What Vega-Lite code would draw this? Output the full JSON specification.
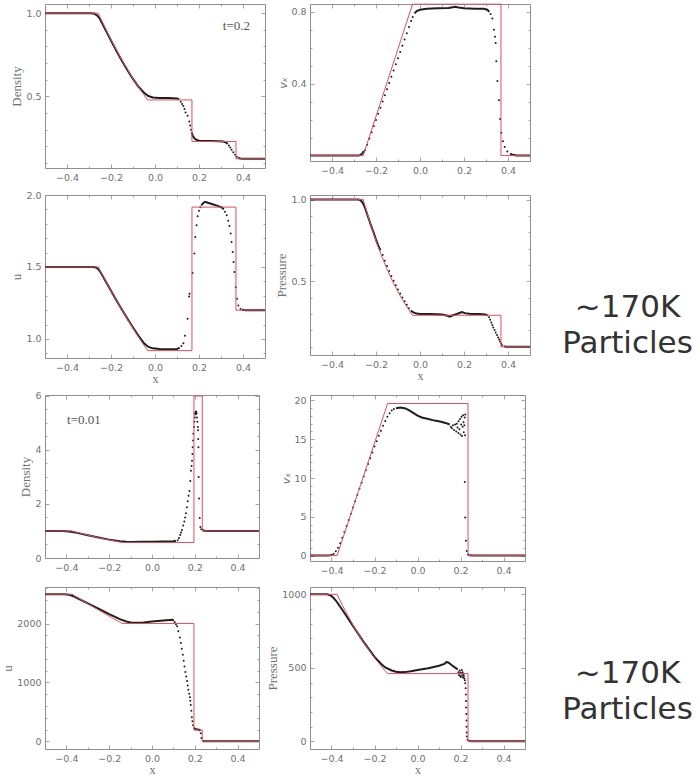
{
"$schema": "https://vega.github.io/schema/vega-lite/v6.json",
"padding": {"left": 1, "top": 1, "right": 0, "bottom": 0},
"columns": 3,
"spacing": {"row": 5, "column": -4},
"config": {
  "view": {"stroke": "#8f8f8f", "strokeWidth": 1},
  "axis": {"domain": false, "grid": false, "labelFont": "DejaVu Sans", "labelFontSize": 9.5, "labelColor": "#707070", "tickColor": "#8f8f8f", "tickWidth": 0.8, "labelPadding": 8, "labelOverlap": false, "labelFlush": false, "labelBound": false, "titleFont": "Liberation Serif", "titleFontSize": 13, "titleFontWeight": "normal", "titleColor": "#707070", "titlePadding": 2},
  "axisX": {"titleFontSize": 12, "titlePadding": 0}
},
"concat": [
{
 "width": 220, "height": 164,
 "data": {"values": [
  {"k":"e","x":-0.5,"y":1},{"k":"e","x":-0.258,"y":1},{"k":"e","x":-0.25,"y":0.9764},{"k":"e","x":-0.225,"y":0.9067},{"k":"e","x":-0.2,"y":0.8403},{"k":"e","x":-0.175,"y":0.7773},{"k":"e","x":-0.15,"y":0.7175},{"k":"e","x":-0.125,"y":0.6608},{"k":"e","x":-0.1,"y":0.6073},{"k":"e","x":-0.075,"y":0.5567},{"k":"e","x":-0.05,"y":0.509},{"k":"e","x":-0.034,"y":0.4788},{"k":"e","x":0.168,"y":0.4788},{"k":"e","x":0.168,"y":0.2294},{"k":"e","x":0.368,"y":0.2294},{"k":"e","x":0.368,"y":0.125},{"k":"e","x":0.5,"y":0.125},
  {"k":"l","s":1,"x":-0.5,"y":1},{"k":"l","s":1,"x":-0.29,"y":1},{"k":"l","s":1,"x":-0.275,"y":0.997},{"k":"l","s":1,"x":-0.262,"y":0.985},{"k":"l","s":1,"x":-0.25,"y":0.965},{"k":"l","s":1,"x":-0.225,"y":0.9},{"k":"l","s":1,"x":-0.2,"y":0.836},{"k":"l","s":1,"x":-0.175,"y":0.773},{"k":"l","s":1,"x":-0.15,"y":0.713},{"k":"l","s":1,"x":-0.125,"y":0.657},{"k":"l","s":1,"x":-0.1,"y":0.605},{"k":"l","s":1,"x":-0.075,"y":0.558},{"k":"l","s":1,"x":-0.05,"y":0.522},{"k":"l","s":1,"x":-0.03,"y":0.502},{"k":"l","s":1,"x":-0.01,"y":0.494},{"k":"l","s":1,"x":0.02,"y":0.491},{"k":"l","s":1,"x":0.06,"y":0.49},{"k":"l","s":1,"x":0.1,"y":0.488},{"k":"l","s":1,"x":0.11,"y":0.482},
  {"k":"d","x":0.117,"y":0.468},{"k":"d","x":0.123,"y":0.455},{"k":"d","x":0.129,"y":0.443},{"k":"d","x":0.134,"y":0.425},{"k":"d","x":0.139,"y":0.404},{"k":"d","x":0.148,"y":0.384},{"k":"d","x":0.156,"y":0.35},{"k":"d","x":0.16,"y":0.325},{"k":"d","x":0.164,"y":0.3},
  {"k":"l","s":2,"x":0.167,"y":0.285},{"k":"l","s":2,"x":0.172,"y":0.262},{"k":"l","s":2,"x":0.18,"y":0.247},{"k":"l","s":2,"x":0.19,"y":0.238},{"k":"l","s":2,"x":0.2,"y":0.234},{"k":"l","s":2,"x":0.25,"y":0.232},{"k":"l","s":2,"x":0.29,"y":0.231},{"k":"l","s":2,"x":0.31,"y":0.229},{"k":"l","s":2,"x":0.322,"y":0.224},{"k":"l","s":2,"x":0.33,"y":0.214},
  {"k":"d","x":0.336,"y":0.205},{"k":"d","x":0.342,"y":0.193},{"k":"d","x":0.348,"y":0.18},{"k":"d","x":0.356,"y":0.165},{"k":"d","x":0.364,"y":0.15},{"k":"d","x":0.372,"y":0.138},
  {"k":"l","s":3,"x":0.378,"y":0.132},{"k":"l","s":3,"x":0.388,"y":0.127},{"k":"l","s":3,"x":0.4,"y":0.125},{"k":"l","s":3,"x":0.5,"y":0.125}
 ]},
 "layer": [
  {"transform": [{"filter": "datum.k=='l'"}], "mark": {"type": "line", "color": "#1e1e1e", "strokeWidth": 2},
   "encoding": {
    "x": {"field": "x", "type": "quantitative", "scale": {"domain": [-0.5, 0.5], "nice": false, "zero": false}, "axis": {"orient": "top", "labels": false, "title": null, "values": [-0.4,-0.3,-0.2,-0.1,0,0.1,0.2,0.3,0.4], "tickSize": {"condition": {"test": "round(datum.value*10)%2==0", "value": -4}, "value": -2}}},
    "y": {"field": "y", "type": "quantitative", "scale": {"domain": [0.07, 1.055], "nice": false, "zero": false}, "axis": {"orient": "right", "labels": false, "title": null, "values": [0.1,0.2,0.3,0.4,0.5,0.6,0.7,0.8,0.9,1.0], "tickSize": {"condition": {"test": "round(datum.value*10)%5==0", "value": -4}, "value": -2}}},
    "detail": {"field": "s"}, "order": {"value": null}}},
  {"transform": [{"filter": "datum.k=='d'"}], "mark": {"type": "circle", "color": "#1e1e1e", "size": 4, "opacity": 1},
   "encoding": {
    "x": {"field": "x", "type": "quantitative", "scale": {"domain": [-0.5, 0.5], "nice": false, "zero": false}, "axis": null},
    "y": {"field": "y", "type": "quantitative", "scale": {"domain": [0.07, 1.055], "nice": false, "zero": false}, "axis": null}}},
  {"transform": [{"filter": "datum.k=='e'"}], "mark": {"type": "line", "color": "#d9505e", "strokeWidth": 1},
   "encoding": {
    "x": {"field": "x", "type": "quantitative", "scale": {"domain": [-0.5, 0.5], "nice": false, "zero": false}, "axis": {"orient": "bottom", "title": null, "values": [-0.4,-0.3,-0.2,-0.1,0,0.1,0.2,0.3,0.4], "labelExpr": "round(datum.value*10)%2==0 ? format(datum.value,'.1f') : ''", "tickSize": {"condition": {"test": "round(datum.value*10)%2==0", "value": -4}, "value": -2}}},
    "y": {"field": "y", "type": "quantitative", "scale": {"domain": [0.07, 1.055], "nice": false, "zero": false}, "axis": {"orient": "left", "title": "Density", "values": [0.1,0.2,0.3,0.4,0.5,0.6,0.7,0.8,0.9,1.0], "labelExpr": "round(datum.value*10)%5==0 ? format(datum.value,'.1f') : ''", "tickSize": {"condition": {"test": "round(datum.value*10)%5==0", "value": -4}, "value": -2}}},
    "order": {"value": null}}},
  {"data": {"values": [{"t": "t=0.2"}]},
   "mark": {"type": "text", "font": "Liberation Serif", "fontSize": 13, "color": "#555555"},
   "encoding": {
    "x": {"datum": 0.37, "type": "quantitative", "scale": {"domain": [-0.5, 0.5], "nice": false, "zero": false}, "axis": null},
    "y": {"datum": 0.925, "type": "quantitative", "scale": {"domain": [0.07, 1.055], "nice": false, "zero": false}, "axis": null},
    "text": {"field": "t"}}}
 ],
 "resolve": {"axis": {"x": "independent", "y": "independent"}}
},
{
 "width": 220, "height": 157,
 "data": {"values": [
  {"k":"e","x":-0.5,"y":0},{"k":"e","x":-0.258,"y":0},{"k":"e","x":-0.034,"y":0.841},{"k":"e","x":0.368,"y":0.841},{"k":"e","x":0.368,"y":0},{"k":"e","x":0.5,"y":0},
  {"k":"l","s":1,"x":-0.5,"y":0},{"k":"l","s":1,"x":-0.28,"y":0},{"k":"l","s":1,"x":-0.27,"y":0.004},{"k":"l","s":1,"x":-0.262,"y":0.012},{"k":"l","s":1,"x":-0.255,"y":0.026},
  {"k":"d","x":-0.25,"y":0.03},{"k":"d","x":-0.24,"y":0.06},{"k":"d","x":-0.23,"y":0.095},{"k":"d","x":-0.22,"y":0.13},{"k":"d","x":-0.21,"y":0.165},{"k":"d","x":-0.2,"y":0.198},{"k":"d","x":-0.19,"y":0.232},{"k":"d","x":-0.18,"y":0.266},{"k":"d","x":-0.17,"y":0.3},{"k":"d","x":-0.16,"y":0.335},{"k":"d","x":-0.15,"y":0.369},{"k":"d","x":-0.14,"y":0.403},{"k":"d","x":-0.13,"y":0.438},{"k":"d","x":-0.12,"y":0.472},{"k":"d","x":-0.11,"y":0.507},{"k":"d","x":-0.1,"y":0.541},{"k":"d","x":-0.09,"y":0.576},{"k":"d","x":-0.08,"y":0.61},{"k":"d","x":-0.07,"y":0.645},{"k":"d","x":-0.06,"y":0.679},{"k":"d","x":-0.05,"y":0.714},{"k":"d","x":-0.04,"y":0.748},{"k":"d","x":-0.033,"y":0.77},
  {"k":"l","s":2,"x":-0.025,"y":0.79},{"k":"l","s":2,"x":-0.015,"y":0.803},{"k":"l","s":2,"x":0,"y":0.81},{"k":"l","s":2,"x":0.03,"y":0.815},{"k":"l","s":2,"x":0.08,"y":0.818},{"k":"l","s":2,"x":0.13,"y":0.82},{"k":"l","s":2,"x":0.16,"y":0.826},{"k":"l","s":2,"x":0.175,"y":0.822},{"k":"l","s":2,"x":0.2,"y":0.818},{"k":"l","s":2,"x":0.25,"y":0.816},{"k":"l","s":2,"x":0.29,"y":0.815},{"k":"l","s":2,"x":0.306,"y":0.81},{"k":"l","s":2,"x":0.315,"y":0.798},
  {"k":"d","x":0.321,"y":0.786},{"k":"d","x":0.329,"y":0.762},{"k":"d","x":0.336,"y":0.699},{"k":"d","x":0.341,"y":0.66},{"k":"d","x":0.344,"y":0.625},{"k":"d","x":0.347,"y":0.524},{"k":"d","x":0.352,"y":0.415},{"k":"d","x":0.359,"y":0.307},{"k":"d","x":0.364,"y":0.203},{"k":"d","x":0.37,"y":0.127},{"k":"d","x":0.377,"y":0.08},{"k":"d","x":0.385,"y":0.048},{"k":"d","x":0.397,"y":0.023},
  {"k":"l","s":3,"x":0.41,"y":0.01},{"k":"l","s":3,"x":0.42,"y":0.005},{"k":"l","s":3,"x":0.44,"y":0},{"k":"l","s":3,"x":0.5,"y":0}
 ]},
 "layer": [
  {"transform": [{"filter": "datum.k=='l'"}], "mark": {"type": "line", "color": "#1e1e1e", "strokeWidth": 2},
   "encoding": {
    "x": {"field": "x", "type": "quantitative", "scale": {"domain": [-0.5, 0.5], "nice": false, "zero": false}, "axis": {"orient": "top", "labels": false, "title": null, "values": [-0.4,-0.3,-0.2,-0.1,0,0.1,0.2,0.3,0.4], "tickSize": {"condition": {"test": "round(datum.value*10)%2==0", "value": -4}, "value": -2}}},
    "y": {"field": "y", "type": "quantitative", "scale": {"domain": [-0.03, 0.842], "nice": false, "zero": false}, "axis": {"orient": "right", "labels": false, "title": null, "values": [0.1,0.2,0.3,0.4,0.5,0.6,0.7,0.8], "tickSize": {"condition": {"test": "round(datum.value*10)%4==0", "value": -4}, "value": -2}}},
    "detail": {"field": "s"}, "order": {"value": null}}},
  {"transform": [{"filter": "datum.k=='d'"}], "mark": {"type": "circle", "color": "#1e1e1e", "size": 4, "opacity": 1},
   "encoding": {
    "x": {"field": "x", "type": "quantitative", "scale": {"domain": [-0.5, 0.5], "nice": false, "zero": false}, "axis": null},
    "y": {"field": "y", "type": "quantitative", "scale": {"domain": [-0.03, 0.842], "nice": false, "zero": false}, "axis": null}}},
  {"transform": [{"filter": "datum.k=='e'"}], "mark": {"type": "line", "color": "#d9505e", "strokeWidth": 1},
   "encoding": {
    "x": {"field": "x", "type": "quantitative", "scale": {"domain": [-0.5, 0.5], "nice": false, "zero": false}, "axis": {"orient": "bottom", "title": null, "values": [-0.4,-0.3,-0.2,-0.1,0,0.1,0.2,0.3,0.4], "labelExpr": "round(datum.value*10)%2==0 ? format(datum.value,'.1f') : ''", "tickSize": {"condition": {"test": "round(datum.value*10)%2==0", "value": -4}, "value": -2}}},
    "y": {"field": "y", "type": "quantitative", "scale": {"domain": [-0.03, 0.842], "nice": false, "zero": false}, "axis": {"orient": "left", "title": "vₓ", "titleFont": "DejaVu Sans", "titleFontStyle": "italic", "titleFontSize": 11, "values": [0.1,0.2,0.3,0.4,0.5,0.6,0.7,0.8], "labelExpr": "round(datum.value*10)%4==0 ? format(datum.value,'.1f') : ''", "tickSize": {"condition": {"test": "round(datum.value*10)%4==0", "value": -4}, "value": -2}}},
    "order": {"value": null}}}
 ],
 "resolve": {"axis": {"x": "independent", "y": "independent"}}
},
{
 "width": 160, "height": 10, "view": {"stroke": null},
 "data": {"values": [{"t": ""}]},
 "mark": {"type": "text"},
 "encoding": {"text": {"field": "t"}}
},
{
 "width": 220, "height": 163,
 "data": {"values": [
  {"k":"e","x":-0.5,"y":1.5},{"k":"e","x":-0.258,"y":1.5},{"k":"e","x":-0.25,"y":1.476},{"k":"e","x":-0.225,"y":1.405},{"k":"e","x":-0.2,"y":1.336},{"k":"e","x":-0.175,"y":1.268},{"k":"e","x":-0.15,"y":1.202},{"k":"e","x":-0.125,"y":1.138},{"k":"e","x":-0.1,"y":1.076},{"k":"e","x":-0.075,"y":1.015},{"k":"e","x":-0.05,"y":0.956},{"k":"e","x":-0.034,"y":0.919},{"k":"e","x":0.168,"y":0.919},{"k":"e","x":0.168,"y":1.916},{"k":"e","x":0.368,"y":1.916},{"k":"e","x":0.368,"y":1.2},{"k":"e","x":0.5,"y":1.2},
  {"k":"l","s":1,"x":-0.5,"y":1.5},{"k":"l","s":1,"x":-0.28,"y":1.5},{"k":"l","s":1,"x":-0.27,"y":1.497},{"k":"l","s":1,"x":-0.26,"y":1.488},{"k":"l","s":1,"x":-0.25,"y":1.47},{"k":"l","s":1,"x":-0.225,"y":1.403},{"k":"l","s":1,"x":-0.2,"y":1.335},{"k":"l","s":1,"x":-0.175,"y":1.268},{"k":"l","s":1,"x":-0.15,"y":1.203},{"k":"l","s":1,"x":-0.125,"y":1.14},{"k":"l","s":1,"x":-0.1,"y":1.08},{"k":"l","s":1,"x":-0.075,"y":1.022},{"k":"l","s":1,"x":-0.05,"y":0.97},{"k":"l","s":1,"x":-0.03,"y":0.945},{"k":"l","s":1,"x":-0.01,"y":0.935},{"k":"l","s":1,"x":0.02,"y":0.93},{"k":"l","s":1,"x":0.06,"y":0.928},{"k":"l","s":1,"x":0.1,"y":0.93},{"k":"l","s":1,"x":0.112,"y":0.94},
  {"k":"d","x":0.12,"y":0.952},{"k":"d","x":0.129,"y":0.97},{"k":"d","x":0.136,"y":1.023},{"k":"d","x":0.148,"y":1.14},{"k":"d","x":0.155,"y":1.295},{"k":"d","x":0.157,"y":1.314},{"k":"d","x":0.171,"y":1.458},{"k":"d","x":0.179,"y":1.593},{"k":"d","x":0.183,"y":1.709},{"k":"d","x":0.189,"y":1.79},{"k":"d","x":0.194,"y":1.853},{"k":"d","x":0.2,"y":1.89},{"k":"d","x":0.206,"y":1.915},
  {"k":"l","s":2,"x":0.21,"y":1.928},{"k":"l","s":2,"x":0.215,"y":1.937},{"k":"l","s":2,"x":0.222,"y":1.948},{"k":"l","s":2,"x":0.228,"y":1.952},{"k":"l","s":2,"x":0.24,"y":1.946},{"k":"l","s":2,"x":0.258,"y":1.937},{"k":"l","s":2,"x":0.288,"y":1.923},{"k":"l","s":2,"x":0.305,"y":1.912},{"k":"l","s":2,"x":0.313,"y":1.9},
  {"k":"d","x":0.318,"y":1.884},{"k":"d","x":0.326,"y":1.86},{"k":"d","x":0.333,"y":1.821},{"k":"d","x":0.338,"y":1.784},{"k":"d","x":0.344,"y":1.733},{"k":"d","x":0.348,"y":1.674},{"k":"d","x":0.353,"y":1.605},{"k":"d","x":0.357,"y":1.535},{"k":"d","x":0.361,"y":1.465},{"k":"d","x":0.367,"y":1.36},{"k":"d","x":0.373,"y":1.279},{"k":"d","x":0.379,"y":1.233},{"k":"d","x":0.389,"y":1.209},
  {"k":"l","s":3,"x":0.395,"y":1.204},{"k":"l","s":3,"x":0.41,"y":1.2},{"k":"l","s":3,"x":0.5,"y":1.2}
 ]},
 "layer": [
  {"transform": [{"filter": "datum.k=='l'"}], "mark": {"type": "line", "color": "#1e1e1e", "strokeWidth": 2},
   "encoding": {
    "x": {"field": "x", "type": "quantitative", "scale": {"domain": [-0.5, 0.5], "nice": false, "zero": false}, "axis": {"orient": "top", "labels": false, "title": null, "values": [-0.4,-0.3,-0.2,-0.1,0,0.1,0.2,0.3,0.4], "tickSize": {"condition": {"test": "round(datum.value*10)%2==0", "value": -4}, "value": -2}}},
    "y": {"field": "y", "type": "quantitative", "scale": {"domain": [0.868, 2.0], "nice": false, "zero": false}, "axis": {"orient": "right", "labels": false, "title": null, "values": [0.9,1.0,1.1,1.2,1.3,1.4,1.5,1.6,1.7,1.8,1.9,2.0], "tickSize": {"condition": {"test": "round(datum.value*10)%5==0", "value": -4}, "value": -2}}},
    "detail": {"field": "s"}, "order": {"value": null}}},
  {"transform": [{"filter": "datum.k=='d'"}], "mark": {"type": "circle", "color": "#1e1e1e", "size": 4, "opacity": 1},
   "encoding": {
    "x": {"field": "x", "type": "quantitative", "scale": {"domain": [-0.5, 0.5], "nice": false, "zero": false}, "axis": null},
    "y": {"field": "y", "type": "quantitative", "scale": {"domain": [0.868, 2.0], "nice": false, "zero": false}, "axis": null}}},
  {"transform": [{"filter": "datum.k=='e'"}], "mark": {"type": "line", "color": "#d9505e", "strokeWidth": 1},
   "encoding": {
    "x": {"field": "x", "type": "quantitative", "scale": {"domain": [-0.5, 0.5], "nice": false, "zero": false}, "axis": {"orient": "bottom", "title": "x", "values": [-0.4,-0.3,-0.2,-0.1,0,0.1,0.2,0.3,0.4], "labelExpr": "round(datum.value*10)%2==0 ? format(datum.value,'.1f') : ''", "tickSize": {"condition": {"test": "round(datum.value*10)%2==0", "value": -4}, "value": -2}}},
    "y": {"field": "y", "type": "quantitative", "scale": {"domain": [0.868, 2.0], "nice": false, "zero": false}, "axis": {"orient": "left", "title": "u", "values": [0.9,1.0,1.1,1.2,1.3,1.4,1.5,1.6,1.7,1.8,1.9,2.0], "labelExpr": "round(datum.value*10)%5==0 ? format(datum.value,'.1f') : ''", "tickSize": {"condition": {"test": "round(datum.value*10)%5==0", "value": -4}, "value": -2}}},
    "order": {"value": null}}}
 ],
 "resolve": {"axis": {"x": "independent", "y": "independent"}}
},
{
 "width": 220, "height": 160,
 "data": {"values": [
  {"k":"e","x":-0.5,"y":1},{"k":"e","x":-0.258,"y":1},{"k":"e","x":-0.25,"y":0.9609},{"k":"e","x":-0.225,"y":0.849},{"k":"e","x":-0.2,"y":0.748},{"k":"e","x":-0.175,"y":0.657},{"k":"e","x":-0.15,"y":0.575},{"k":"e","x":-0.125,"y":0.5014},{"k":"e","x":-0.1,"y":0.4355},{"k":"e","x":-0.075,"y":0.3767},{"k":"e","x":-0.05,"y":0.3244},{"k":"e","x":-0.034,"y":0.293},{"k":"e","x":0.368,"y":0.293},{"k":"e","x":0.368,"y":0.1},{"k":"e","x":0.5,"y":0.1},
  {"k":"l","s":1,"x":-0.5,"y":1},{"k":"l","s":1,"x":-0.28,"y":1},{"k":"l","s":1,"x":-0.27,"y":0.996},{"k":"l","s":1,"x":-0.26,"y":0.98},{"k":"l","s":1,"x":-0.25,"y":0.95},{"k":"l","s":1,"x":-0.24,"y":0.91},{"k":"l","s":1,"x":-0.225,"y":0.85},{"k":"l","s":1,"x":-0.21,"y":0.795},{"k":"l","s":1,"x":-0.2,"y":0.755},{"k":"l","s":1,"x":-0.19,"y":0.72},{"k":"l","s":1,"x":-0.18,"y":0.69},
  {"k":"d","x":-0.17,"y":0.6606},{"k":"d","x":-0.16,"y":0.6266},{"k":"d","x":-0.15,"y":0.594},{"k":"d","x":-0.14,"y":0.5627},{"k":"d","x":-0.13,"y":0.5327},{"k":"d","x":-0.12,"y":0.5042},{"k":"d","x":-0.11,"y":0.4769},{"k":"d","x":-0.1,"y":0.4506},{"k":"d","x":-0.09,"y":0.4256},{"k":"d","x":-0.08,"y":0.4017},{"k":"d","x":-0.07,"y":0.379},{"k":"d","x":-0.06,"y":0.3573},{"k":"d","x":-0.05,"y":0.3363},
  {"k":"l","s":2,"x":-0.042,"y":0.322},{"k":"l","s":2,"x":-0.03,"y":0.31},{"k":"l","s":2,"x":-0.015,"y":0.303},{"k":"l","s":2,"x":0,"y":0.301},{"k":"l","s":2,"x":0.05,"y":0.3},{"k":"l","s":2,"x":0.1,"y":0.297},{"k":"l","s":2,"x":0.125,"y":0.29},{"k":"l","s":2,"x":0.135,"y":0.285},{"k":"l","s":2,"x":0.15,"y":0.293},{"k":"l","s":2,"x":0.17,"y":0.302},{"k":"l","s":2,"x":0.19,"y":0.313},{"k":"l","s":2,"x":0.205,"y":0.306},{"k":"l","s":2,"x":0.23,"y":0.3},{"k":"l","s":2,"x":0.27,"y":0.3},{"k":"l","s":2,"x":0.298,"y":0.298},{"k":"l","s":2,"x":0.308,"y":0.29},
  {"k":"d","x":0.314,"y":0.28},{"k":"d","x":0.319,"y":0.265},{"k":"d","x":0.324,"y":0.249},{"k":"d","x":0.329,"y":0.234},{"k":"d","x":0.333,"y":0.218},{"k":"d","x":0.339,"y":0.203},{"k":"d","x":0.344,"y":0.188},{"k":"d","x":0.35,"y":0.172},{"k":"d","x":0.355,"y":0.157},{"k":"d","x":0.36,"y":0.145},{"k":"d","x":0.364,"y":0.133},{"k":"d","x":0.369,"y":0.121},{"k":"d","x":0.374,"y":0.11},
  {"k":"l","s":3,"x":0.382,"y":0.104},{"k":"l","s":3,"x":0.39,"y":0.101},{"k":"l","s":3,"x":0.4,"y":0.1},{"k":"l","s":3,"x":0.5,"y":0.1}
 ]},
 "layer": [
  {"transform": [{"filter": "datum.k=='l'"}], "mark": {"type": "line", "color": "#1e1e1e", "strokeWidth": 2},
   "encoding": {
    "x": {"field": "x", "type": "quantitative", "scale": {"domain": [-0.5, 0.5], "nice": false, "zero": false}, "axis": {"orient": "top", "labels": false, "title": null, "values": [-0.4,-0.3,-0.2,-0.1,0,0.1,0.2,0.3,0.4], "tickSize": {"condition": {"test": "round(datum.value*10)%2==0", "value": -4}, "value": -2}}},
    "y": {"field": "y", "type": "quantitative", "scale": {"domain": [0.05, 1.028], "nice": false, "zero": false}, "axis": {"orient": "right", "labels": false, "title": null, "values": [0.1,0.2,0.3,0.4,0.5,0.6,0.7,0.8,0.9,1.0], "tickSize": {"condition": {"test": "round(datum.value*10)%5==0", "value": -4}, "value": -2}}},
    "detail": {"field": "s"}, "order": {"value": null}}},
  {"transform": [{"filter": "datum.k=='d'"}], "mark": {"type": "circle", "color": "#1e1e1e", "size": 4, "opacity": 1},
   "encoding": {
    "x": {"field": "x", "type": "quantitative", "scale": {"domain": [-0.5, 0.5], "nice": false, "zero": false}, "axis": null},
    "y": {"field": "y", "type": "quantitative", "scale": {"domain": [0.05, 1.028], "nice": false, "zero": false}, "axis": null}}},
  {"transform": [{"filter": "datum.k=='e'"}], "mark": {"type": "line", "color": "#d9505e", "strokeWidth": 1},
   "encoding": {
    "x": {"field": "x", "type": "quantitative", "scale": {"domain": [-0.5, 0.5], "nice": false, "zero": false}, "axis": {"orient": "bottom", "title": "x", "values": [-0.4,-0.3,-0.2,-0.1,0,0.1,0.2,0.3,0.4], "labelExpr": "round(datum.value*10)%2==0 ? format(datum.value,'.1f') : ''", "tickSize": {"condition": {"test": "round(datum.value*10)%2==0", "value": -4}, "value": -2}}},
    "y": {"field": "y", "type": "quantitative", "scale": {"domain": [0.05, 1.028], "nice": false, "zero": false}, "axis": {"orient": "left", "title": "Pressure", "values": [0.1,0.2,0.3,0.4,0.5,0.6,0.7,0.8,0.9,1.0], "labelExpr": "round(datum.value*10)%5==0 ? format(datum.value,'.1f') : ''", "tickSize": {"condition": {"test": "round(datum.value*10)%5==0", "value": -4}, "value": -2}}},
    "order": {"value": null}}}
 ],
 "resolve": {"axis": {"x": "independent", "y": "independent"}}
},
{
 "width": 160, "height": 150, "view": {"stroke": null},
 "data": {"values": [{"t": "~170K\nParticles"}]},
 "mark": {"type": "text", "font": "DejaVu Sans", "fontSize": 31, "lineHeight": 36, "lineBreak": "\n", "color": "#333333", "align": "center", "baseline": "middle"},
 "encoding": {
  "text": {"field": "t"},
  "x": {"datum": 0.578, "type": "quantitative", "scale": {"domain": [0, 1]}, "axis": null},
  "y": {"datum": 0.25, "type": "quantitative", "scale": {"domain": [0, 1]}, "axis": null}}
},
{
 "width": 214, "height": 163,
 "data": {"values": [
  {"k":"e","x":-0.5,"y":1},{"k":"e","x":-0.374,"y":1},{"k":"e","x":-0.35,"y":0.9472},{"k":"e","x":-0.3,"y":0.8457},{"k":"e","x":-0.25,"y":0.7525},{"k":"e","x":-0.2,"y":0.6678},{"k":"e","x":-0.15,"y":0.5911},{"k":"e","x":-0.139,"y":0.5751},{"k":"e","x":0.196,"y":0.5751},{"k":"e","x":0.196,"y":5.992},{"k":"e","x":0.235,"y":5.992},{"k":"e","x":0.235,"y":1},{"k":"e","x":0.5,"y":1},
  {"k":"l","s":1,"x":-0.5,"y":1},{"k":"l","s":1,"x":-0.42,"y":1},{"k":"l","s":1,"x":-0.4,"y":0.99},{"k":"l","s":1,"x":-0.38,"y":0.97},{"k":"l","s":1,"x":-0.35,"y":0.93},{"k":"l","s":1,"x":-0.3,"y":0.845},{"k":"l","s":1,"x":-0.25,"y":0.76},{"k":"l","s":1,"x":-0.2,"y":0.68},{"k":"l","s":1,"x":-0.15,"y":0.62},{"k":"l","s":1,"x":-0.12,"y":0.6},{"k":"l","s":1,"x":-0.1,"y":0.595},{"k":"l","s":1,"x":-0.05,"y":0.598},{"k":"l","s":1,"x":0,"y":0.602},{"k":"l","s":1,"x":0.05,"y":0.61},{"k":"l","s":1,"x":0.1,"y":0.62},{"k":"l","s":1,"x":0.112,"y":0.64},
  {"k":"d","x":0.12,"y":0.66},{"k":"d","x":0.126,"y":0.74},{"k":"d","x":0.132,"y":0.85},{"k":"d","x":0.136,"y":0.94},{"k":"d","x":0.14,"y":1.04},{"k":"d","x":0.146,"y":1.2},{"k":"d","x":0.151,"y":1.35},{"k":"d","x":0.155,"y":1.5},{"k":"d","x":0.159,"y":1.66},{"k":"d","x":0.163,"y":1.88},{"k":"d","x":0.167,"y":2.1},{"k":"d","x":0.171,"y":2.3},{"k":"d","x":0.175,"y":2.48},{"k":"d","x":0.179,"y":2.85},{"k":"d","x":0.182,"y":3.23},{"k":"d","x":0.185,"y":3.4},{"k":"d","x":0.187,"y":3.6},{"k":"d","x":0.189,"y":3.85},{"k":"d","x":0.19,"y":4.1},{"k":"d","x":0.192,"y":4.35},{"k":"d","x":0.193,"y":4.6},{"k":"d","x":0.196,"y":4.85},{"k":"d","x":0.198,"y":5.04},{"k":"d","x":0.2,"y":5.2},{"k":"d","x":0.201,"y":5.35},{"k":"d","x":0.203,"y":5.32},{"k":"d","x":0.204,"y":5.4},{"k":"d","x":0.205,"y":5.38},{"k":"d","x":0.206,"y":5.42},{"k":"d","x":0.207,"y":5.36},{"k":"d","x":0.208,"y":5.35},{"k":"d","x":0.21,"y":5.2},{"k":"d","x":0.212,"y":5.04},{"k":"d","x":0.214,"y":4.85},{"k":"d","x":0.215,"y":4.73},{"k":"d","x":0.216,"y":4.4},{"k":"d","x":0.217,"y":4.1},{"k":"d","x":0.218,"y":3.0},{"k":"d","x":0.22,"y":2.2},{"k":"d","x":0.223,"y":1.48},{"k":"d","x":0.226,"y":1.15},{"k":"d","x":0.23,"y":1.06},
  {"k":"l","s":2,"x":0.235,"y":1.04},{"k":"l","s":2,"x":0.245,"y":1.01},{"k":"l","s":2,"x":0.26,"y":1},{"k":"l","s":2,"x":0.5,"y":1}
 ]},
 "layer": [
  {"transform": [{"filter": "datum.k=='l'"}], "mark": {"type": "line", "color": "#1e1e1e", "strokeWidth": 2},
   "encoding": {
    "x": {"field": "x", "type": "quantitative", "scale": {"domain": [-0.5, 0.5], "nice": false, "zero": false}, "axis": {"orient": "top", "labels": false, "title": null, "values": [-0.4,-0.3,-0.2,-0.1,0,0.1,0.2,0.3,0.4], "tickSize": {"condition": {"test": "round(datum.value*10)%2==0", "value": -4}, "value": -2}}},
    "y": {"field": "y", "type": "quantitative", "scale": {"domain": [0, 6.03], "nice": false, "zero": false}, "axis": {"orient": "right", "labels": false, "title": null, "values": [0.5,1,1.5,2,2.5,3,3.5,4,4.5,5,5.5,6], "tickSize": {"condition": {"test": "datum.value%2==0", "value": -4}, "value": -2}}},
    "detail": {"field": "s"}, "order": {"value": null}}},
  {"transform": [{"filter": "datum.k=='d'"}], "mark": {"type": "circle", "color": "#1e1e1e", "size": 4, "opacity": 1},
   "encoding": {
    "x": {"field": "x", "type": "quantitative", "scale": {"domain": [-0.5, 0.5], "nice": false, "zero": false}, "axis": null},
    "y": {"field": "y", "type": "quantitative", "scale": {"domain": [0, 6.03], "nice": false, "zero": false}, "axis": null}}},
  {"transform": [{"filter": "datum.k=='e'"}], "mark": {"type": "line", "color": "#d9505e", "strokeWidth": 1},
   "encoding": {
    "x": {"field": "x", "type": "quantitative", "scale": {"domain": [-0.5, 0.5], "nice": false, "zero": false}, "axis": {"orient": "bottom", "title": null, "values": [-0.4,-0.3,-0.2,-0.1,0,0.1,0.2,0.3,0.4], "labelExpr": "round(datum.value*10)%2==0 ? format(datum.value,'.1f') : ''", "tickSize": {"condition": {"test": "round(datum.value*10)%2==0", "value": -4}, "value": -2}}},
    "y": {"field": "y", "type": "quantitative", "scale": {"domain": [0, 6.03], "nice": false, "zero": false}, "axis": {"orient": "left", "title": "Density", "values": [0,0.5,1,1.5,2,2.5,3,3.5,4,4.5,5,5.5,6], "labelExpr": "datum.value%2==0 ? format(datum.value,'d') : ''", "tickSize": {"condition": {"test": "datum.value%2==0", "value": -4}, "value": -2}}},
    "order": {"value": null}}},
  {"data": {"values": [{"t": "t=0.01"}]},
   "mark": {"type": "text", "font": "Liberation Serif", "fontSize": 13, "color": "#555555"},
   "encoding": {
    "x": {"datum": -0.318, "type": "quantitative", "scale": {"domain": [-0.5, 0.5], "nice": false, "zero": false}, "axis": null},
    "y": {"datum": 5.1, "type": "quantitative", "scale": {"domain": [0, 6.03], "nice": false, "zero": false}, "axis": null},
    "text": {"field": "t"}}}
 ],
 "resolve": {"axis": {"x": "independent", "y": "independent"}}
},
{
 "width": 215, "height": 166,
 "data": {"values": [
  {"k":"e","x":-0.5,"y":0},{"k":"e","x":-0.374,"y":0},{"k":"e","x":-0.139,"y":19.6},{"k":"e","x":0.235,"y":19.6},{"k":"e","x":0.235,"y":0},{"k":"e","x":0.5,"y":0},
  {"k":"l","s":1,"x":-0.5,"y":0},{"k":"l","s":1,"x":-0.42,"y":0},{"k":"l","s":1,"x":-0.405,"y":0.03},{"k":"l","s":1,"x":-0.395,"y":0.1},
  {"k":"d","x":-0.39,"y":0.2},{"k":"d","x":-0.38,"y":0.55},{"k":"d","x":-0.37,"y":1.0},{"k":"d","x":-0.36,"y":1.6},{"k":"d","x":-0.35,"y":2.3},{"k":"d","x":-0.34,"y":3.05},{"k":"d","x":-0.33,"y":3.8},{"k":"d","x":-0.32,"y":4.6},{"k":"d","x":-0.31,"y":5.4},{"k":"d","x":-0.3,"y":6.2},{"k":"d","x":-0.29,"y":7.0},{"k":"d","x":-0.28,"y":7.8},{"k":"d","x":-0.27,"y":8.6},{"k":"d","x":-0.26,"y":9.4},{"k":"d","x":-0.25,"y":10.2},{"k":"d","x":-0.24,"y":11.0},{"k":"d","x":-0.23,"y":11.8},{"k":"d","x":-0.22,"y":12.55},{"k":"d","x":-0.21,"y":13.3},{"k":"d","x":-0.2,"y":14.05},{"k":"d","x":-0.19,"y":14.75},{"k":"d","x":-0.18,"y":15.45},{"k":"d","x":-0.17,"y":16.1},{"k":"d","x":-0.16,"y":16.75},{"k":"d","x":-0.15,"y":17.35},{"k":"d","x":-0.14,"y":17.9},{"k":"d","x":-0.13,"y":18.35},{"k":"d","x":-0.12,"y":18.7},{"k":"d","x":-0.11,"y":18.9},
  {"k":"l","s":2,"x":-0.1,"y":19.0},{"k":"l","s":2,"x":-0.08,"y":19.1},{"k":"l","s":2,"x":-0.06,"y":19.0},{"k":"l","s":2,"x":-0.04,"y":18.75},{"k":"l","s":2,"x":-0.02,"y":18.4},{"k":"l","s":2,"x":0,"y":18.05},{"k":"l","s":2,"x":0.02,"y":17.8},{"k":"l","s":2,"x":0.05,"y":17.6},{"k":"l","s":2,"x":0.08,"y":17.4},{"k":"l","s":2,"x":0.11,"y":17.25},{"k":"l","s":2,"x":0.13,"y":17.1},{"k":"l","s":2,"x":0.15,"y":16.9},
  {"k":"d","x":0.155,"y":16.6},{"k":"d","x":0.16,"y":16.4},{"k":"d","x":0.165,"y":16.8},{"k":"d","x":0.17,"y":16.2},{"k":"d","x":0.175,"y":16.9},{"k":"d","x":0.18,"y":16.0},{"k":"d","x":0.183,"y":17.0},{"k":"d","x":0.186,"y":16.5},{"k":"d","x":0.19,"y":15.8},{"k":"d","x":0.191,"y":17.3},{"k":"d","x":0.195,"y":16.3},{"k":"d","x":0.198,"y":17.6},{"k":"d","x":0.2,"y":15.6},{"k":"d","x":0.203,"y":16.9},{"k":"d","x":0.205,"y":17.9},{"k":"d","x":0.207,"y":15.4},{"k":"d","x":0.21,"y":16.6},{"k":"d","x":0.212,"y":18.1},{"k":"d","x":0.214,"y":17.2},{"k":"d","x":0.215,"y":15.9},{"k":"d","x":0.218,"y":16.8},{"k":"d","x":0.22,"y":17.8},{"k":"d","x":0.221,"y":15.5},{"k":"d","x":0.222,"y":18.2},{"k":"d","x":0.22,"y":9.5},{"k":"d","x":0.222,"y":4.9},{"k":"d","x":0.225,"y":1.9},{"k":"d","x":0.229,"y":0.6},{"k":"d","x":0.235,"y":0.15},
  {"k":"l","s":3,"x":0.24,"y":0.05},{"k":"l","s":3,"x":0.26,"y":0},{"k":"l","s":3,"x":0.5,"y":0}
 ]},
 "layer": [
  {"transform": [{"filter": "datum.k=='l'"}], "mark": {"type": "line", "color": "#1e1e1e", "strokeWidth": 2},
   "encoding": {
    "x": {"field": "x", "type": "quantitative", "scale": {"domain": [-0.5, 0.5], "nice": false, "zero": false}, "axis": {"orient": "top", "labels": false, "title": null, "values": [-0.4,-0.3,-0.2,-0.1,0,0.1,0.2,0.3,0.4], "tickSize": {"condition": {"test": "round(datum.value*10)%2==0", "value": -4}, "value": -2}}},
    "y": {"field": "y", "type": "quantitative", "scale": {"domain": [-0.7, 20.7], "nice": false, "zero": false}, "axis": {"orient": "right", "labels": false, "title": null, "values": [0,1,2,3,4,5,6,7,8,9,10,11,12,13,14,15,16,17,18,19,20], "tickSize": {"condition": {"test": "datum.value%5==0", "value": -4}, "value": -2}}},
    "detail": {"field": "s"}, "order": {"value": null}}},
  {"transform": [{"filter": "datum.k=='d'"}], "mark": {"type": "circle", "color": "#1e1e1e", "size": 4, "opacity": 1},
   "encoding": {
    "x": {"field": "x", "type": "quantitative", "scale": {"domain": [-0.5, 0.5], "nice": false, "zero": false}, "axis": null},
    "y": {"field": "y", "type": "quantitative", "scale": {"domain": [-0.7, 20.7], "nice": false, "zero": false}, "axis": null}}},
  {"transform": [{"filter": "datum.k=='e'"}], "mark": {"type": "line", "color": "#d9505e", "strokeWidth": 1},
   "encoding": {
    "x": {"field": "x", "type": "quantitative", "scale": {"domain": [-0.5, 0.5], "nice": false, "zero": false}, "axis": {"orient": "bottom", "title": null, "values": [-0.4,-0.3,-0.2,-0.1,0,0.1,0.2,0.3,0.4], "labelExpr": "round(datum.value*10)%2==0 ? format(datum.value,'.1f') : ''", "tickSize": {"condition": {"test": "round(datum.value*10)%2==0", "value": -4}, "value": -2}}},
    "y": {"field": "y", "type": "quantitative", "scale": {"domain": [-0.7, 20.7], "nice": false, "zero": false}, "axis": {"orient": "left", "title": "vₓ", "titleFont": "DejaVu Sans", "titleFontStyle": "italic", "titleFontSize": 11, "values": [0,1,2,3,4,5,6,7,8,9,10,11,12,13,14,15,16,17,18,19,20], "labelExpr": "datum.value%5==0 ? format(datum.value,'d') : ''", "tickSize": {"condition": {"test": "datum.value%5==0", "value": -4}, "value": -2}}},
    "order": {"value": null}}}
 ],
 "resolve": {"axis": {"x": "independent", "y": "independent"}}
},
{
 "width": 160, "height": 10, "view": {"stroke": null},
 "data": {"values": [{"t": ""}]},
 "mark": {"type": "text"},
 "encoding": {"text": {"field": "t"}}
},
{
 "width": 214, "height": 162,
 "data": {"values": [
  {"k":"e","x":-0.5,"y":2500},{"k":"e","x":-0.374,"y":2500},{"k":"e","x":-0.35,"y":2446},{"k":"e","x":-0.3,"y":2338},{"k":"e","x":-0.25,"y":2231},{"k":"e","x":-0.2,"y":2127},{"k":"e","x":-0.15,"y":2026},{"k":"e","x":-0.139,"y":2003},{"k":"e","x":0.196,"y":2003},{"k":"e","x":0.196,"y":192},{"k":"e","x":0.235,"y":192},{"k":"e","x":0.235,"y":0},{"k":"e","x":0.5,"y":0},
  {"k":"l","s":1,"x":-0.5,"y":2500},{"k":"l","s":1,"x":-0.41,"y":2500},{"k":"l","s":1,"x":-0.39,"y":2492},{"k":"l","s":1,"x":-0.37,"y":2470},{"k":"l","s":1,"x":-0.35,"y":2435},{"k":"l","s":1,"x":-0.3,"y":2345},{"k":"l","s":1,"x":-0.25,"y":2255},{"k":"l","s":1,"x":-0.2,"y":2160},{"k":"l","s":1,"x":-0.15,"y":2075},{"k":"l","s":1,"x":-0.12,"y":2035},{"k":"l","s":1,"x":-0.1,"y":2020},{"k":"l","s":1,"x":-0.07,"y":2015},{"k":"l","s":1,"x":-0.04,"y":2020},{"k":"l","s":1,"x":0,"y":2035},{"k":"l","s":1,"x":0.04,"y":2050},{"k":"l","s":1,"x":0.08,"y":2062},{"k":"l","s":1,"x":0.095,"y":2064},{"k":"l","s":1,"x":0.102,"y":2050},
  {"k":"d","x":0.106,"y":2027},{"k":"d","x":0.112,"y":1990},{"k":"d","x":0.117,"y":1956},{"k":"d","x":0.123,"y":1870},{"k":"d","x":0.13,"y":1764},{"k":"d","x":0.135,"y":1670},{"k":"d","x":0.139,"y":1573},{"k":"d","x":0.144,"y":1470},{"k":"d","x":0.148,"y":1370},{"k":"d","x":0.152,"y":1270},{"k":"d","x":0.156,"y":1178},{"k":"d","x":0.16,"y":1100},{"k":"d","x":0.164,"y":1025},{"k":"d","x":0.167,"y":950},{"k":"d","x":0.17,"y":877},{"k":"d","x":0.174,"y":810},{"k":"d","x":0.177,"y":751},{"k":"d","x":0.179,"y":690},{"k":"d","x":0.181,"y":619},{"k":"d","x":0.184,"y":520},{"k":"d","x":0.186,"y":411},{"k":"d","x":0.189,"y":340},{"k":"d","x":0.192,"y":274},
  {"k":"l","s":2,"x":0.196,"y":235},{"k":"l","s":2,"x":0.2,"y":215},{"k":"l","s":2,"x":0.207,"y":205},{"k":"l","s":2,"x":0.215,"y":202},{"k":"l","s":2,"x":0.222,"y":195},{"k":"l","s":2,"x":0.225,"y":175},
  {"k":"d","x":0.228,"y":137},{"k":"d","x":0.231,"y":55},
  {"k":"l","s":3,"x":0.236,"y":12},{"k":"l","s":3,"x":0.24,"y":2},{"k":"l","s":3,"x":0.26,"y":0},{"k":"l","s":3,"x":0.5,"y":0}
 ]},
 "layer": [
  {"transform": [{"filter": "datum.k=='l'"}], "mark": {"type": "line", "color": "#1e1e1e", "strokeWidth": 2},
   "encoding": {
    "x": {"field": "x", "type": "quantitative", "scale": {"domain": [-0.5, 0.5], "nice": false, "zero": false}, "axis": {"orient": "top", "labels": false, "title": null, "values": [-0.4,-0.3,-0.2,-0.1,0,0.1,0.2,0.3,0.4], "tickSize": {"condition": {"test": "round(datum.value*10)%2==0", "value": -4}, "value": -2}}},
    "y": {"field": "y", "type": "quantitative", "scale": {"domain": [-130, 2622], "nice": false, "zero": false}, "axis": {"orient": "right", "labels": false, "title": null, "values": [0,200,400,600,800,1000,1200,1400,1600,1800,2000,2200,2400,2600], "tickSize": {"condition": {"test": "datum.value%1000==0", "value": -4}, "value": -2}}},
    "detail": {"field": "s"}, "order": {"value": null}}},
  {"transform": [{"filter": "datum.k=='d'"}], "mark": {"type": "circle", "color": "#1e1e1e", "size": 4, "opacity": 1},
   "encoding": {
    "x": {"field": "x", "type": "quantitative", "scale": {"domain": [-0.5, 0.5], "nice": false, "zero": false}, "axis": null},
    "y": {"field": "y", "type": "quantitative", "scale": {"domain": [-130, 2622], "nice": false, "zero": false}, "axis": null}}},
  {"transform": [{"filter": "datum.k=='e'"}], "mark": {"type": "line", "color": "#d9505e", "strokeWidth": 1},
   "encoding": {
    "x": {"field": "x", "type": "quantitative", "scale": {"domain": [-0.5, 0.5], "nice": false, "zero": false}, "axis": {"orient": "bottom", "title": "x", "values": [-0.4,-0.3,-0.2,-0.1,0,0.1,0.2,0.3,0.4], "labelExpr": "round(datum.value*10)%2==0 ? format(datum.value,'.1f') : ''", "tickSize": {"condition": {"test": "round(datum.value*10)%2==0", "value": -4}, "value": -2}}},
    "y": {"field": "y", "type": "quantitative", "scale": {"domain": [-130, 2622], "nice": false, "zero": false}, "axis": {"orient": "left", "title": "u", "values": [0,200,400,600,800,1000,1200,1400,1600,1800,2000,2200,2400,2600], "labelExpr": "datum.value%1000==0 ? format(datum.value,'d') : ''", "tickSize": {"condition": {"test": "datum.value%1000==0", "value": -4}, "value": -2}}},
    "order": {"value": null}}}
 ],
 "resolve": {"axis": {"x": "independent", "y": "independent"}}
},
{
 "width": 215, "height": 162,
 "data": {"values": [
  {"k":"e","x":-0.5,"y":1000},{"k":"e","x":-0.374,"y":1000},{"k":"e","x":-0.35,"y":926.9},{"k":"e","x":-0.3,"y":790.8},{"k":"e","x":-0.25,"y":671.4},{"k":"e","x":-0.2,"y":568.3},{"k":"e","x":-0.15,"y":479},{"k":"e","x":-0.139,"y":460.9},{"k":"e","x":0.235,"y":460.9},{"k":"e","x":0.235,"y":0},{"k":"e","x":0.5,"y":0},
  {"k":"l","s":1,"x":-0.5,"y":1000},{"k":"l","s":1,"x":-0.42,"y":1000},{"k":"l","s":1,"x":-0.41,"y":996},{"k":"l","s":1,"x":-0.4,"y":988},{"k":"l","s":1,"x":-0.39,"y":975},{"k":"l","s":1,"x":-0.38,"y":958},{"k":"l","s":1,"x":-0.37,"y":938},{"k":"l","s":1,"x":-0.35,"y":895},{"k":"l","s":1,"x":-0.3,"y":785},{"k":"l","s":1,"x":-0.25,"y":675},{"k":"l","s":1,"x":-0.2,"y":575},{"k":"l","s":1,"x":-0.17,"y":528},{"k":"l","s":1,"x":-0.15,"y":503},{"k":"l","s":1,"x":-0.12,"y":482},{"k":"l","s":1,"x":-0.1,"y":474},{"k":"l","s":1,"x":-0.08,"y":470},{"k":"l","s":1,"x":-0.06,"y":471},{"k":"l","s":1,"x":-0.03,"y":477},{"k":"l","s":1,"x":0,"y":485},{"k":"l","s":1,"x":0.05,"y":497},{"k":"l","s":1,"x":0.1,"y":514},{"k":"l","s":1,"x":0.125,"y":527},{"k":"l","s":1,"x":0.135,"y":540},{"k":"l","s":1,"x":0.145,"y":535},{"k":"l","s":1,"x":0.16,"y":518},{"k":"l","s":1,"x":0.175,"y":502},{"k":"l","s":1,"x":0.187,"y":490},
  {"k":"d","x":0.19,"y":470},{"k":"d","x":0.193,"y":452},{"k":"d","x":0.196,"y":482},{"k":"d","x":0.198,"y":445},{"k":"d","x":0.2,"y":468},{"k":"d","x":0.202,"y":438},{"k":"d","x":0.204,"y":462},{"k":"d","x":0.206,"y":485},{"k":"d","x":0.208,"y":448},{"k":"d","x":0.21,"y":470},{"k":"d","x":0.212,"y":435},{"k":"d","x":0.214,"y":458},{"k":"d","x":0.216,"y":445},{"k":"d","x":0.218,"y":428},{"k":"d","x":0.22,"y":415},{"k":"d","x":0.222,"y":395},{"k":"d","x":0.224,"y":362},{"k":"d","x":0.225,"y":318},{"k":"d","x":0.226,"y":274},{"k":"d","x":0.226,"y":230},{"k":"d","x":0.227,"y":186},{"k":"d","x":0.228,"y":142},{"k":"d","x":0.228,"y":99},{"k":"d","x":0.229,"y":60},{"k":"d","x":0.23,"y":33},{"k":"d","x":0.233,"y":11},
  {"k":"l","s":2,"x":0.238,"y":3},{"k":"l","s":2,"x":0.25,"y":0},{"k":"l","s":2,"x":0.5,"y":0}
 ]},
 "layer": [
  {"transform": [{"filter": "datum.k=='l'"}], "mark": {"type": "line", "color": "#1e1e1e", "strokeWidth": 2},
   "encoding": {
    "x": {"field": "x", "type": "quantitative", "scale": {"domain": [-0.5, 0.5], "nice": false, "zero": false}, "axis": {"orient": "top", "labels": false, "title": null, "values": [-0.4,-0.3,-0.2,-0.1,0,0.1,0.2,0.3,0.4], "tickSize": {"condition": {"test": "round(datum.value*10)%2==0", "value": -4}, "value": -2}}},
    "y": {"field": "y", "type": "quantitative", "scale": {"domain": [-52, 1050], "nice": false, "zero": false}, "axis": {"orient": "right", "labels": false, "title": null, "values": [0,100,200,300,400,500,600,700,800,900,1000], "tickSize": {"condition": {"test": "datum.value%500==0", "value": -4}, "value": -2}}},
    "detail": {"field": "s"}, "order": {"value": null}}},
  {"transform": [{"filter": "datum.k=='d'"}], "mark": {"type": "circle", "color": "#1e1e1e", "size": 4, "opacity": 1},
   "encoding": {
    "x": {"field": "x", "type": "quantitative", "scale": {"domain": [-0.5, 0.5], "nice": false, "zero": false}, "axis": null},
    "y": {"field": "y", "type": "quantitative", "scale": {"domain": [-52, 1050], "nice": false, "zero": false}, "axis": null}}},
  {"transform": [{"filter": "datum.k=='e'"}], "mark": {"type": "line", "color": "#d9505e", "strokeWidth": 1},
   "encoding": {
    "x": {"field": "x", "type": "quantitative", "scale": {"domain": [-0.5, 0.5], "nice": false, "zero": false}, "axis": {"orient": "bottom", "title": "x", "values": [-0.4,-0.3,-0.2,-0.1,0,0.1,0.2,0.3,0.4], "labelExpr": "round(datum.value*10)%2==0 ? format(datum.value,'.1f') : ''", "tickSize": {"condition": {"test": "round(datum.value*10)%2==0", "value": -4}, "value": -2}}},
    "y": {"field": "y", "type": "quantitative", "scale": {"domain": [-52, 1050], "nice": false, "zero": false}, "axis": {"orient": "left", "title": "Pressure", "values": [0,100,200,300,400,500,600,700,800,900,1000], "labelExpr": "datum.value%500==0 ? format(datum.value,'d') : ''", "tickSize": {"condition": {"test": "datum.value%500==0", "value": -4}, "value": -2}}},
    "order": {"value": null}}}
 ],
 "resolve": {"axis": {"x": "independent", "y": "independent"}}
},
{
 "width": 160, "height": 150, "view": {"stroke": null},
 "data": {"values": [{"t": "~170K\nParticles"}]},
 "mark": {"type": "text", "font": "DejaVu Sans", "fontSize": 31, "lineHeight": 36, "lineBreak": "\n", "color": "#333333", "align": "center", "baseline": "middle"},
 "encoding": {
  "text": {"field": "t"},
  "x": {"datum": 0.578, "type": "quantitative", "scale": {"domain": [0, 1]}, "axis": null},
  "y": {"datum": 0.42, "type": "quantitative", "scale": {"domain": [0, 1]}, "axis": null}}
}
]
}
